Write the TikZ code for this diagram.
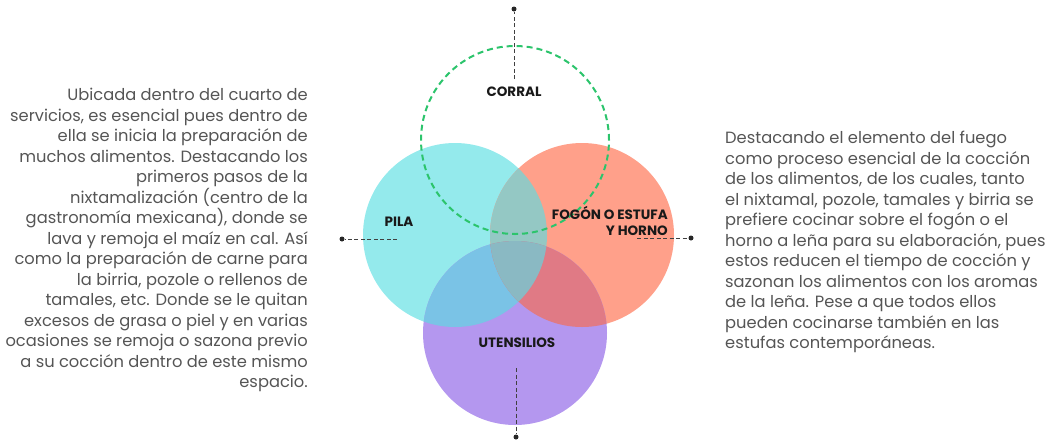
\documentclass[tikz,border=0pt]{standalone}
\usepackage{fontspec}
\setmainfont{Poppins}
\definecolor{pilaC}{HTML}{94EAEC}
\definecolor{fogonC}{HTML}{FFA08A}
\definecolor{utenC}{HTML}{B497EF}
\definecolor{pilaFogonC}{HTML}{94C8C4}
\definecolor{pilaUtenC}{HTML}{7AC3E6}
\definecolor{fogonUtenC}{HTML}{E07A85}
\definecolor{tresC}{HTML}{8AB9C3}
\definecolor{corralC}{HTML}{2CC46C}
\definecolor{textoC}{HTML}{555555}
\tikzset{
  zonelabel/.style={font=\fontsize{13.5}{16}\selectfont\bfseries, text=black!90, inner sep=0pt},
  parrafo/.style={font=\fontsize{16.3}{20.5}\selectfont, text=textoC, inner sep=0pt},
  conn/.style={draw=black!75, dash pattern=on 4pt off 2.5pt, line width=1pt},
  punto/.style={circle, fill=black!85, inner sep=0pt, minimum size=5pt}
}
\begin{document}
\begin{tikzpicture}[x=1pt,y=-1pt]
\useasboundingbox (0,0) rectangle (1047,440);
\coordinate (cPila) at (455,235);
\coordinate (cFogon) at (582,235);
\coordinate (cUten) at (515,333);
\coordinate (cCorral) at (515,140);
\fill [pilaC] (cPila) circle [radius=92pt];
\fill [fogonC] (cFogon) circle [radius=92pt];
\fill [utenC] (cUten) circle [radius=92pt];
\begin{scope}
\clip (cPila) circle [radius=92pt];
\fill [pilaFogonC] (cFogon) circle [radius=92pt];
\fill [pilaUtenC] (cUten) circle [radius=92pt];
\clip (cFogon) circle [radius=92pt];
\fill [tresC] (cUten) circle [radius=92pt];
\end{scope}
\begin{scope}
\clip (cFogon) circle [radius=92pt];
\fill [fogonUtenC] (cUten) circle [radius=92pt];
\clip (cPila) circle [radius=92pt];
\fill [tresC] (cUten) circle [radius=92pt];
\end{scope}
\draw [corralC, line width=2pt, dash pattern=on 6pt off 4pt] (cCorral) circle [radius=94pt];
\node [zonelabel] (corral) at (514,92) {CORRAL};
\node [zonelabel] (pila) at (399,222) {PILA};
\node [zonelabel, align=right, anchor=east] (fogon) at (668,221) {FOGÓN O ESTUFA\\Y HORNO};
\node [zonelabel] (utensilios) at (517,343) {UTENSILIOS};
\node [punto] (dotCorral) at (514,9) {};
\node [punto] (dotPila) at (342,239) {};
\node [punto] (dotFogon) at (691,238) {};
\node [punto] (dotUten) at (516,437) {};
\coordinate (inCorral) at (514,79);
\coordinate (inPila) at (397,239);
\coordinate (inFogon) at (637,238);
\coordinate (inUten) at (516,368);
\draw [conn] (inCorral) -- (dotCorral) (inPila) -- (dotPila) (inFogon) -- (dotFogon) (inUten) -- (dotUten);
\node [parrafo, align=right, anchor=north east] (textoPila) at (308,88) {Ubicada dentro del cuarto de\\servicios, es esencial pues dentro de\\ella se inicia la preparación de\\muchos alimentos. Destacando los\\primeros pasos de la\\nixtamalización (centro de la\\gastronomía mexicana), donde se\\lava y remoja el maíz en cal. Así\\como la preparación de carne para\\la birria, pozole o rellenos de\\tamales, etc. Donde se le quitan\\excesos de grasa o piel y en varias\\ocasiones se remoja o sazona previo\\a su cocción dentro de este mismo\\espacio.};
\node [parrafo, align=left, anchor=north west] (textoFogon) at (725,131) {Destacando el elemento del fuego\\como proceso esencial de la cocción\\de los alimentos, de los cuales, tanto\\el nixtamal, pozole, tamales y birria se\\prefiere cocinar sobre el fogón o el\\horno a leña para su elaboración, pues\\estos reducen el tiempo de cocción y\\sazonan los alimentos con los aromas\\de la leña. Pese a que todos ellos\\pueden cocinarse también en las\\estufas contemporáneas.};
\end{tikzpicture}
\end{document}
